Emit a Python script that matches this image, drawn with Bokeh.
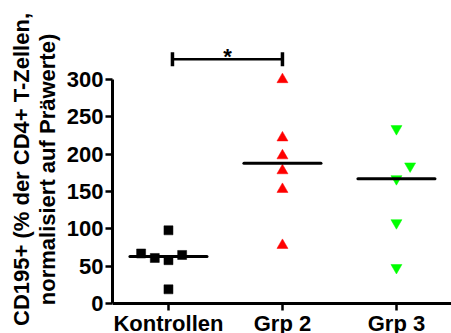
import numpy as np
from bokeh.plotting import figure
from bokeh.models import FixedTicker, Label, ColumnDataSource, Range1d
from bokeh.embed import file_html
from bokeh.resources import INLINE

# ---- data ----
categories = ["Kontrollen", "Grp 2", "Grp 3"]
cat_pos = [1, 2, 3]
ctrl_vals = [98, 67, 61, 58, 65, 19]
ctrl_off = [0.0, -0.24, -0.12, 0.0, 0.12, 0.0]
grp2_vals = [300, 222, 198, 178, 153, 78]
grp2_off = [0.0, 0.0, 0.0, 0.0, 0.0, 0.0]
grp3_vals = [234, 184, 167, 108, 48]
grp3_off = [0.0, 0.12, 0.0, 0.0, 0.0]
y_ticks = [0, 50, 100, 150, 200, 250, 300]
sig_pair = (1.035, 2.0)
sig_y = 327
sig_text = "*"
y_title = "CD195+ (% der CD4+ T-Zellen,\nnormalisiert auf Präwerte)"

FONT = "Liberation Sans"

# frame spans the canvas height below a small top border; value 0 sits 30px above the bottom
px_per_unit = 224.0 / 300.0
y_lo = -30.0 / px_per_unit
y_hi = 298.0 / px_per_unit

p = figure(width=451, height=333, output_backend="svg", toolbar_location=None,
           x_range=Range1d(0.509, 3.483), y_range=Range1d(y_lo, y_hi),
           min_border_left=112, min_border_right=0, min_border_top=5,
           min_border_bottom=0)
p.outline_line_color = None
p.grid.visible = False
p.background_fill_color = "white"

# y axis
ya = p.yaxis[0]
ya.ticker = FixedTicker(ticks=y_ticks)
ya.bounds = (0, 300)
ya.axis_line_width = 3
ya.major_tick_line_width = 2.5
ya.major_tick_out = 7
ya.major_tick_in = 0
ya.minor_tick_line_color = None
ya.major_label_text_font = FONT
ya.major_label_text_font_style = "bold"
ya.major_label_text_font_size = "22px"
ya.major_label_text_color = "black"
ya.major_label_standoff = 2
ya.axis_label = y_title
ya.axis_label_text_font = FONT
ya.axis_label_text_font_style = "bold"
ya.axis_label_text_font_size = "22px"
ya.axis_label_text_color = "black"
ya.axis_label_text_line_height = 1.05
ya.axis_label_standoff = 4

# x axis drawn at y=0
xa = p.xaxis[0]
xa.fixed_location = 0
xa.ticker = FixedTicker(ticks=cat_pos)
xa.major_label_overrides = {pos: name for pos, name in zip(cat_pos, categories)}
xa.axis_line_width = 3
xa.major_tick_line_width = 2.5
xa.major_tick_out = 7
xa.major_tick_in = 0
xa.minor_tick_line_color = None
xa.major_label_text_font = FONT
xa.major_label_text_font_style = "bold"
xa.major_label_text_font_size = "22px"
xa.major_label_text_color = "black"
xa.major_label_standoff = 0

# points
groups = [
    (ctrl_vals, ctrl_off, "square", "black", 9),
    (grp2_vals, grp2_off, "triangle", "#ff0000", 11),
    (grp3_vals, grp3_off, "inverted_triangle", "#00ff00", 11),
]
for pos, (vals, offs, mk, col, sz) in zip(cat_pos, groups):
    xs = [pos + o for o in offs]
    src = ColumnDataSource(dict(x=xs, y=vals))
    p.scatter("x", "y", source=src, marker=mk, size=sz, fill_color=col,
              line_color=col, line_width=0.5)
    med = float(np.median(vals))
    p.line([pos - 0.338, pos + 0.338], [med, med], line_color="black",
           line_width=3, line_cap="round")

# significance bar
p.line([sig_pair[0], sig_pair[1]], [sig_y, sig_y], line_color="black", line_width=2.5)
for xx in sig_pair:
    p.line([xx, xx], [sig_y - 9.4, sig_y + 9.4], line_color="black", line_width=3.5)
p.add_layout(Label(x=(sig_pair[0] + sig_pair[1]) / 2, y=sig_y + 4, text=sig_text,
                   text_align="center", text_baseline="alphabetic",
                   text_font=FONT, text_font_style="bold",
                   text_font_size="22px", text_color="black"))

open("out.html", "w").write(file_html(p, INLINE))
